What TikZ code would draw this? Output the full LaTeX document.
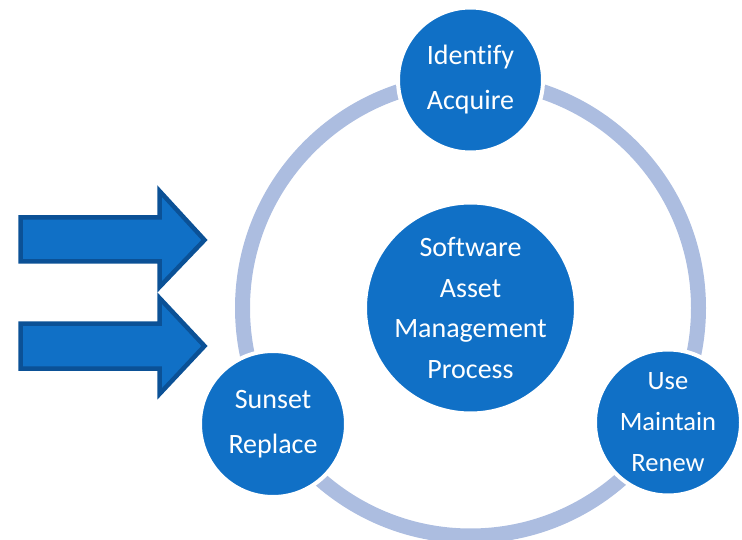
\documentclass[tikz,border=0pt]{standalone}
\usepackage{fontspec}
\setmainfont{Carlito}[Ligatures=CommonOff]
\definecolor{stageblue}{HTML}{1070C6}
\definecolor{arrowedge}{HTML}{0B5196}
\definecolor{ringblue}{HTML}{ACBDE0}
\begin{document}
\begin{tikzpicture}[x=1pt,y=-1pt,
  stage/.style={circle, fill=stageblue, draw=white, line width=4pt, text=white,
    align=center, inner sep=0pt, minimum size=#1},
  bigtext/.style={font=\fontsize{28}{45}\selectfont},
  midtext/.style={font=\fontsize{28}{40.5}\selectfont},
  smalltext/.style={font=\fontsize{26.5}{41}\selectfont},
  blockarrow/.style={fill=stageblue, draw=arrowedge, line width=4.5pt, line join=miter}]
\useasboundingbox (0,0) rectangle (742,540);
% the cycle ring behind the stages
\coordinate (hub) at (470.5,308);
\draw[ringblue, line width=15pt] (hub) circle[radius=228];
% stages
\node[stage=145pt, bigtext] (identify) at (470.5,80) {Identify\\Acquire};
\node[stage=146pt, smalltext] (use) at (668,422.5) {Use\\Maintain\\Renew};
\node[stage=146pt, bigtext] (sunset) at (273,424) {Sunset\\Replace};
\node[stage=211pt, midtext] (core) at (hub) {Software\\Asset\\Management\\Process};
% incoming block arrows
\draw[blockarrow] (20.5,217.5) -- (159.5,217.5) -- (159.5,191) -- (204.5,240)
  -- (159.5,287) -- (159.5,261.5) -- (20.5,261.5) -- cycle;
\draw[blockarrow] (20.5,323.5) -- (159.5,323.5) -- (159.5,298) -- (204.5,346)
  -- (159.5,394) -- (159.5,368.5) -- (20.5,368.5) -- cycle;
\end{tikzpicture}
\end{document}
